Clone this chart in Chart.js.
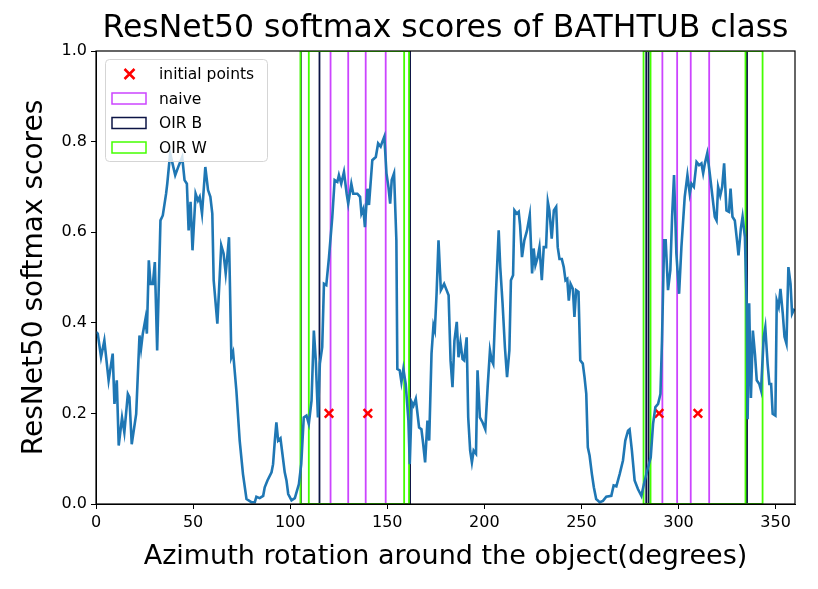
<!DOCTYPE html>
<html>
<head>
<meta charset="utf-8">
<script src="https://cdn.jsdelivr.net/npm/chart.js@4.4.1/dist/chart.umd.min.js"></script>
<style>
  html, body { margin: 0; padding: 0; background: #fff; }
  canvas { display: block; }
</style>
</head>
<body>
<canvas id="chart" width="818" height="589"></canvas>
<script>
// softmax curve
const angles = [0, 0.9, 2.6, 4.3, 6.5, 8.6, 9.5, 10.7, 11.7, 13.4, 14.6, 16.4, 17.2, 18.4, 20.7, 22.4, 23.2, 24.1, 25.5, 26.2,
  27.2, 28.1, 29.3, 30.3, 31.5, 33.2, 34.4, 36.1, 36.7, 38.2, 40.8, 42.7, 44.4, 45.6, 46.8, 47.7, 48.7, 49.7, 51.3, 52.5,
  53.4, 54.6, 56.3, 57.7, 58.9, 59.9, 60.6, 62.5, 64.5, 65.7, 66.8, 67.6, 68.5, 69.7, 70.6, 72.3, 74.0, 75.7, 77.5, 80.0,
  81.8, 82.6, 84.3, 86.1, 86.9, 88.3, 90.4, 91.2, 92.1, 92.9, 93.8, 95.0, 96.0, 97.2, 98.1, 99.0, 100.7, 102.4, 104.5, 105.7,
  107.0, 108.4, 109.6, 111.0, 112.2, 113.2, 114.3, 115.3, 116.5, 117.4, 118.6, 120.0, 121.7, 122.9, 124.3, 125.1, 126.3, 127.7, 129.1, 129.9,
  131.5, 132.5, 134.6, 136.0, 136.7, 137.7, 138.5, 139.8, 140.6, 142.3, 144.1, 145.3, 146.6, 147.5, 148.5, 149.6, 150.6, 151.5, 152.3, 153.5,
  154.7, 155.2, 156.4, 157.3, 158.3, 159.5, 160.9, 161.6, 162.6, 163.5, 164.7, 166.4, 167.6, 168.5, 169.5, 170.7, 171.6, 172.8, 173.8, 174.5,
  175.4, 176.4, 177.6, 179.3, 181.6, 182.6, 183.6, 184.6, 185.8, 186.7, 187.7, 188.8, 189.6, 190.9, 191.7, 192.7, 193.6, 194.5, 195.7, 196.5,
  197.7, 199.1, 200.5, 201.7, 202.9, 203.8, 204.6, 206.0, 207.4, 208.2, 209.4, 210.6, 211.7, 212.9, 213.7, 214.8, 215.5, 216.7, 217.7, 218.4,
  219.4, 220.6, 222.0, 223.4, 224.6, 225.4, 226.3, 227.5, 228.4, 229.6, 230.6, 231.8, 232.7, 233.5, 234.7, 235.8, 237.0, 237.8, 238.7, 239.9,
  240.9, 241.8, 242.7, 243.5, 244.4, 245.6, 246.4, 247.3, 248.5, 249.4, 250.7, 251.6, 252.5, 253.3, 254.2, 255.4, 256.4, 257.6, 259.4, 261.1,
  262.8, 265.4, 266.6, 268.0, 269.7, 271.4, 272.6, 274.0, 274.8, 276.0, 277.4, 279.1, 280.9, 282.2, 283.9, 285.7, 286.9, 288.1, 289.5, 290.7,
  291.5, 292.6, 293.4, 294.6, 295.8, 296.7, 297.7, 298.9, 300.3, 301.5, 303.2, 304.6, 305.8, 306.7, 307.9, 309.3, 310.6, 311.8, 312.7, 313.6,
  314.8, 316.1, 317.5, 318.7, 319.6, 320.4, 321.5, 322.5, 323.5, 324.7, 326.0, 326.8, 327.8, 329.0, 330.3, 330.9, 332.1, 333.0, 334.2, 335.1,
  335.6, 336.4, 337.3, 338.3, 339.4, 340.3, 341.6, 342.5, 343.9, 344.7, 345.9, 346.8, 347.7, 348.5, 349.9, 350.6, 351.6, 352.5, 353.7, 354.6,
  355.6, 356.6, 357.7, 358.5, 359.7];
const scores = [0.38, 0.376, 0.324, 0.361, 0.273, 0.332, 0.221, 0.273, 0.129, 0.191, 0.158, 0.243, 0.236, 0.132, 0.199, 0.372, 0.343, 0.376, 0.409, 0.376,
  0.538, 0.486, 0.486, 0.534, 0.339, 0.626, 0.637, 0.685, 0.707, 0.774, 0.726, 0.748, 0.766, 0.715, 0.707, 0.604, 0.667, 0.560, 0.685, 0.670,
  0.678, 0.641, 0.744, 0.693, 0.678, 0.641, 0.494, 0.398, 0.571, 0.553, 0.509, 0.545, 0.589, 0.324, 0.335, 0.250, 0.140, 0.066, 0.011, 0.004,
  0.004, 0.016, 0.013, 0.018, 0.037, 0.052, 0.070, 0.088, 0.140, 0.180, 0.140, 0.145, 0.111, 0.070, 0.052, 0.022, 0.008, 0.013, 0.044, 0.088,
  0.191, 0.195, 0.177, 0.228, 0.383, 0.317, 0.191, 0.310, 0.346, 0.486, 0.483, 0.545, 0.634, 0.715, 0.711, 0.726, 0.707, 0.733, 0.685, 0.663,
  0.707, 0.685, 0.685, 0.678, 0.641, 0.652, 0.611, 0.696, 0.660, 0.759, 0.766, 0.796, 0.789, 0.800, 0.811, 0.730, 0.700, 0.663, 0.715, 0.730,
  0.582, 0.298, 0.295, 0.269, 0.298, 0.265, 0.184, 0.088, 0.225, 0.217, 0.232, 0.169, 0.165, 0.133, 0.092, 0.184, 0.140, 0.332, 0.394, 0.383,
  0.464, 0.582, 0.472, 0.486, 0.461, 0.317, 0.258, 0.360, 0.402, 0.324, 0.357, 0.320, 0.317, 0.368, 0.191, 0.118, 0.092, 0.118, 0.111, 0.295,
  0.191, 0.180, 0.165, 0.258, 0.339, 0.317, 0.309, 0.468, 0.604, 0.523, 0.442, 0.346, 0.280, 0.339, 0.494, 0.505, 0.648, 0.641, 0.645, 0.615,
  0.545, 0.582, 0.604, 0.638, 0.509, 0.564, 0.527, 0.545, 0.567, 0.494, 0.567, 0.567, 0.667, 0.648, 0.586, 0.648, 0.656, 0.567, 0.541, 0.541,
  0.523, 0.494, 0.497, 0.449, 0.486, 0.475, 0.413, 0.472, 0.468, 0.317, 0.310, 0.280, 0.243, 0.125, 0.107, 0.066, 0.037, 0.011, 0.004, 0.007,
  0.016, 0.018, 0.041, 0.039, 0.066, 0.096, 0.140, 0.162, 0.165, 0.118, 0.052, 0.033, 0.018, 0.044, 0.074, 0.103, 0.177, 0.214, 0.221, 0.243,
  0.361, 0.582, 0.582, 0.472, 0.516, 0.634, 0.726, 0.553, 0.464, 0.567, 0.678, 0.726, 0.685, 0.707, 0.700, 0.755, 0.748, 0.752, 0.730, 0.752,
  0.774, 0.730, 0.678, 0.634, 0.626, 0.700, 0.681, 0.700, 0.752, 0.648, 0.645, 0.696, 0.634, 0.626, 0.575, 0.549, 0.608, 0.634, 0.589, 0.440,
  0.187, 0.443, 0.234, 0.383, 0.330, 0.273, 0.265, 0.251, 0.369, 0.390, 0.309, 0.265, 0.265, 0.199, 0.195, 0.449, 0.435, 0.475, 0.420, 0.369,
  0.354, 0.523, 0.486, 0.420, 0.431];

const initAngles = [120, 140, 290, 310];
const initScores = [0.2, 0.2, 0.2, 0.2];

// [start, end] of each outlined region
const naiveSpans = [[120.8, 149.2], [129.9, 138.9], [291.7, 315.8], [299.3, 306.3]];
const oirBSpans = [[105.5, 161.7], [115.1, 161.7], [283.4, 335.2], [284.6, 335.2]];
const oirWSpans = [[105.3, 161.2], [109.6, 158.7], [282.0, 334.5], [285.6, 343.3]];

const xTicks = [0, 50, 100, 150, 200, 250, 300, 350];
const yTicks = [0, 0.2, 0.4, 0.6, 0.8, 1.0];

const BLUE = '#1f77b4';
const MAGENTA = '#cc44ff';
const NAVY = '#0c1445';
const LIME = '#44ff00';
const FONT = "'DejaVu Sans', sans-serif";

function rectPath(span) {
    const [a, b] = span;
    return [{x: a, y: 0}, {x: a, y: 1}, {x: b, y: 1}, {x: b, y: 0}, {x: a, y: 0}];
}

function spanSets(spans, color) {
    return spans.map(s => ({
        type: 'line',
        data: rectPath(s),
        borderColor: color,
        borderWidth: 1.8,
        pointRadius: 0,
        fill: false,
        tension: 0,
        order: 3
    }));
}

const datasets = [
    {
        type: 'line',
        data: angles.map((a, i) => ({x: a, y: scores[i]})),
        borderColor: BLUE,
        borderWidth: 2.6,
        pointRadius: 0,
        fill: false,
        tension: 0,
        order: 0
    },
    {
        type: 'scatter',
        data: initAngles.map((a, i) => ({x: a, y: initScores[i]})),
        pointStyle: 'crossRot',
        radius: 6,
        borderColor: 'red',
        backgroundColor: 'red',
        borderWidth: 2.5,
        order: 1
    },
    ...spanSets(oirWSpans, LIME),
    ...spanSets(oirBSpans, NAVY),
    ...spanSets(naiveSpans, MAGENTA)
];

const legendItems = [
    {label: 'initial points', kind: 'x', color: 'red'},
    {label: 'naive', kind: 'rect', color: MAGENTA},
    {label: 'OIR B', kind: 'rect', color: NAVY},
    {label: 'OIR W', kind: 'rect', color: LIME}
];

const framePlugin = {
    id: 'frame',
    afterDatasetsDraw(chart) {
        const {ctx, chartArea: a} = chart;
        ctx.save();
        ctx.strokeStyle = '#000';
        ctx.lineWidth = 1.2;
        ctx.strokeRect(a.left, a.top, a.right - a.left, a.bottom - a.top);

        // title, centred over the axes
        ctx.fillStyle = '#000';
        ctx.font = '31.5px ' + FONT;
        ctx.textAlign = 'center';
        ctx.textBaseline = 'middle';
        ctx.fillText('ResNet50 softmax scores of BATHTUB class', (a.left + a.right) / 2, 29);

        // legend box
        const bx = 105.5, by = 59.5, bw = 162, bh = 102;
        ctx.beginPath();
        ctx.roundRect(bx, by, bw, bh, 4);
        ctx.fillStyle = 'rgba(255,255,255,0.8)';
        ctx.fill();
        ctx.strokeStyle = '#d5d5d5';
        ctx.lineWidth = 1;
        ctx.stroke();

        ctx.font = '15.5px ' + FONT;
        ctx.textAlign = 'left';
        legendItems.forEach((it, i) => {
            const cy = 74 + i * 24.5;
            if (it.kind === 'x') {
                ctx.strokeStyle = it.color;
                ctx.lineWidth = 2.5;
                ctx.beginPath();
                ctx.moveTo(124.5, cy - 5); ctx.lineTo(134.5, cy + 5);
                ctx.moveTo(134.5, cy - 5); ctx.lineTo(124.5, cy + 5);
                ctx.stroke();
            } else {
                ctx.strokeStyle = it.color;
                ctx.lineWidth = 1.5;
                ctx.strokeRect(112, cy - 5.5, 34, 11);
            }
            ctx.fillStyle = '#000';
            ctx.fillText(it.label, 159, cy + 1);
        });
        ctx.restore();
    }
};

new Chart(document.getElementById('chart'), {
    type: 'line',
    data: {datasets},
    options: {
        responsive: false,
        animation: false,
        devicePixelRatio: 1,
        layout: {padding: {top: 51, right: 23, left: 0, bottom: 0}},
        plugins: {legend: {display: false}, tooltip: {enabled: false}, title: {display: false}},
        scales: {
            x: {
                type: 'linear',
                min: 0,
                max: 360,
                afterBuildTicks: s => { s.ticks = xTicks.map(v => ({value: v})); },
                afterFit: s => { s.height = 85; },
                grid: {drawOnChartArea: false, drawTicks: true, tickLength: 5, color: '#000'},
                border: {display: true, color: '#000'},
                ticks: {color: '#000', font: {family: FONT, size: 16}, padding: 4, maxRotation: 0},
                title: {
                    display: true,
                    text: 'Azimuth rotation around the object(degrees)',
                    color: '#000',
                    font: {family: FONT, size: 27},
                    padding: {top: 0, bottom: 16}
                }
            },
            y: {
                type: 'linear',
                min: 0,
                max: 1,
                afterBuildTicks: s => { s.ticks = yTicks.map(v => ({value: v})); },
                afterFit: s => { s.width = 96; },
                grid: {drawOnChartArea: false, drawTicks: true, tickLength: 5, color: '#000'},
                border: {display: true, color: '#000'},
                ticks: {color: '#000', font: {family: FONT, size: 16}, padding: 4, callback: v => v.toFixed(1)},
                title: {
                    display: true,
                    text: 'ResNet50 softmax scores',
                    color: '#000',
                    font: {family: FONT, size: 28},
                    padding: {top: 18, bottom: 0}
                }
            }
        }
    },
    plugins: [framePlugin]
});
</script>
</body>
</html>
